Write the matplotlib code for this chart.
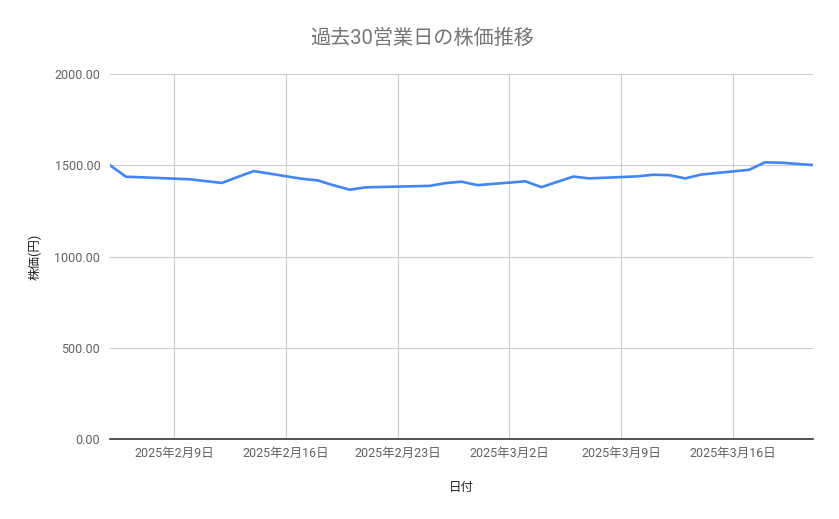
import matplotlib
matplotlib.use("Agg")
import matplotlib.pyplot as plt
import numpy as np
import pandas as pd

plt.rcParams['font.family'] = ['Roboto', 'Noto Sans CJK JP', 'DejaVu Sans']

# 30 business days (Japan)
dates = ["2025-02-05", "2025-02-06", "2025-02-07", "2025-02-10", "2025-02-12",
         "2025-02-13", "2025-02-14", "2025-02-17", "2025-02-18", "2025-02-19",
         "2025-02-20", "2025-02-21", "2025-02-25", "2025-02-26", "2025-02-27",
         "2025-02-28", "2025-03-03", "2025-03-04", "2025-03-05", "2025-03-06",
         "2025-03-07", "2025-03-10", "2025-03-11", "2025-03-12", "2025-03-13",
         "2025-03-14", "2025-03-17", "2025-03-18", "2025-03-19", "2025-03-21"]
prices = [1500, 1437, 1434, 1423, 1403,
          1436, 1468, 1426, 1417, 1390,
          1366, 1379, 1387, 1402, 1410,
          1391, 1412, 1380, 1409, 1438,
          1428, 1439, 1448, 1446, 1428,
          1449, 1475, 1516, 1514, 1501]

tick_dates = ["2025-02-09", "2025-02-16", "2025-02-23", "2025-03-02", "2025-03-09", "2025-03-16"]
y_ticks = [0, 500, 1000, 1500, 2000]

x = pd.to_datetime(dates)
ticks = pd.to_datetime(tick_dates)

fig = plt.figure(figsize=(8.39, 5.19), dpi=100)
ax = fig.add_axes([110 / 839, 1 - 439 / 519, 703 / 839, 365 / 519])

ax.plot(x, prices, color='#4285F4', linewidth=1.9, solid_joinstyle='round')

ax.set_xlim(x[0], x[-1])
ax.set_ylim(0, 2000)
ax.set_yticks(y_ticks)
ax.set_yticklabels(["%.2f" % v for v in y_ticks])
ax.set_xticks(ticks)
ax.set_xticklabels([f"{d.year}年{d.month}月{d.day}日" for d in ticks])

ax.grid(True, color='#cccccc', linewidth=0.8)
ax.set_axisbelow(True)
for side in ['top', 'right', 'left']:
    ax.spines[side].set_visible(False)
ax.spines['bottom'].set_color('#333333')
ax.spines['bottom'].set_linewidth(1.2)
ax.tick_params(axis='both', length=0, labelsize=9, labelcolor='#616161')
ax.tick_params(axis='x', pad=6)
ax.tick_params(axis='y', pad=7)

ax.set_xlabel("日付", fontsize=9, color='#222222', labelpad=15)
ax.set_ylabel("株価(円)", fontsize=9, color='#222222', labelpad=9)
fig.text(0.503, 1 - 38 / 519, "過去30営業日の株価推移", ha='center', va='center',
         fontsize=14.5, color='#757575')

fig.savefig("out.png", dpi=100)
